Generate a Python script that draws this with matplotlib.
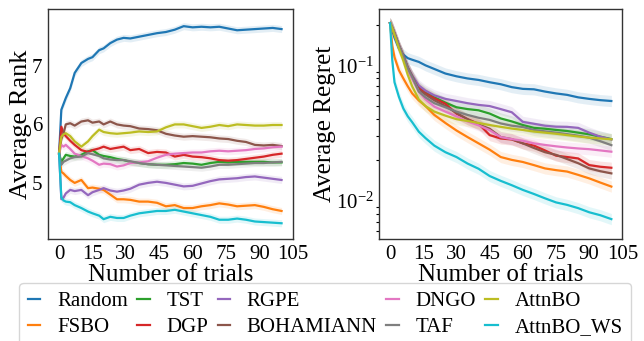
import matplotlib
matplotlib.use("Agg")
import matplotlib.pyplot as plt
import numpy as np

plt.rcParams['font.family'] = ['Liberation Serif', 'DejaVu Serif']
plt.rcParams['mathtext.fontset'] = 'stix'

methods = ["Random", "FSBO", "TST", "DGP", "RGPE", "BOHAMIANN", "DNGO", "TAF", "AttnBO", "AttnBO_WS"]
colors = ["#1f77b4", "#ff7f0e", "#2ca02c", "#d62728", "#9467bd", "#8c564b", "#e377c2", "#7f7f7f", "#bcbd22", "#17becf"]

# ---------- Average rank (left) ----------
rank_trials = [0, 1, 2, 3, 5, 7, 10, 13, 15, 18, 20, 23, 26, 29, 32, 36, 40, 44, 48, 52, 56, 60, 64, 68, 72, 76, 80, 84, 88, 92, 96, 100]
rank_random = [5.5, 6.25, 6.35, 6.45, 6.62, 6.88, 7.05, 7.12, 7.15, 7.27, 7.30, 7.39, 7.45, 7.48, 7.47, 7.50, 7.53, 7.56, 7.58, 7.62, 7.68, 7.66, 7.67, 7.66, 7.67, 7.64, 7.61, 7.62, 7.63, 7.64, 7.65, 7.63]
rank_fsbo = [5.5, 5.19, 5.16, 5.12, 5.05, 5.0, 5.05, 4.91, 4.92, 4.9, 4.88, 4.8, 4.72, 4.72, 4.71, 4.68, 4.68, 4.66, 4.6, 4.62, 4.57, 4.57, 4.6, 4.62, 4.65, 4.63, 4.6, 4.61, 4.62, 4.59, 4.55, 4.52]
rank_tst = [5.5, 5.36, 5.42, 5.48, 5.46, 5.45, 5.48, 5.54, 5.56, 5.48, 5.46, 5.44, 5.41, 5.39, 5.36, 5.34, 5.32, 5.31, 5.31, 5.32, 5.34, 5.33, 5.31, 5.34, 5.36, 5.35, 5.36, 5.36, 5.36, 5.36, 5.35, 5.35]
rank_dgp = [5.5, 5.96, 5.85, 5.8, 5.72, 5.65, 5.56, 5.53, 5.56, 5.59, 5.62, 5.58, 5.6, 5.62, 5.56, 5.58, 5.51, 5.53, 5.52, 5.45, 5.48, 5.45, 5.44, 5.42, 5.39, 5.38, 5.39, 5.41, 5.43, 5.45, 5.48, 5.5]
rank_rgpe = [5.5, 4.72, 4.75, 4.82, 4.88, 4.86, 4.88, 4.79, 4.84, 4.88, 4.91, 4.87, 4.85, 4.87, 4.9, 4.97, 5.0, 5.02, 5.0, 4.97, 4.94, 4.95, 4.99, 5.03, 5.06, 5.07, 5.08, 5.1, 5.11, 5.09, 5.07, 5.05]
rank_bohamiann = [5.5, 5.75, 5.85, 6.0, 6.02, 5.98, 6.05, 6.07, 6.03, 6.05, 6.0, 6.05, 6.0, 5.98, 5.97, 5.93, 5.92, 5.9, 5.84, 5.81, 5.79, 5.8, 5.79, 5.78, 5.76, 5.75, 5.72, 5.7, 5.65, 5.64, 5.65, 5.63]
rank_dngo = [5.5, 5.65, 5.62, 5.65, 5.58, 5.5, 5.46, 5.42, 5.38, 5.31, 5.33, 5.32, 5.28, 5.3, 5.34, 5.35, 5.37, 5.43, 5.48, 5.5, 5.51, 5.52, 5.52, 5.54, 5.55, 5.54, 5.55, 5.56, 5.58, 5.59, 5.61, 5.62]
rank_taf = [5.5, 5.31, 5.36, 5.38, 5.42, 5.44, 5.45, 5.51, 5.49, 5.46, 5.42, 5.4, 5.39, 5.39, 5.37, 5.34, 5.32, 5.31, 5.3, 5.29, 5.28, 5.27, 5.26, 5.28, 5.31, 5.31, 5.32, 5.33, 5.34, 5.34, 5.35, 5.36]
rank_attnbo = [5.5, 5.79, 5.83, 5.85, 5.8, 5.71, 5.62, 5.71, 5.8, 5.91, 5.87, 5.85, 5.84, 5.85, 5.86, 5.88, 5.87, 5.88, 5.95, 6.0, 6.0, 5.97, 5.94, 5.96, 5.99, 5.97, 6.0, 5.99, 5.98, 5.98, 5.99, 5.99]
rank_attnbo_ws = [5.5, 4.75, 4.7, 4.68, 4.67, 4.62, 4.57, 4.51, 4.48, 4.44, 4.38, 4.42, 4.4, 4.4, 4.44, 4.48, 4.5, 4.52, 4.52, 4.54, 4.51, 4.48, 4.45, 4.42, 4.37, 4.37, 4.39, 4.37, 4.34, 4.33, 4.32, 4.31]
rank_band = 0.06

# ---------- Average regret (right) ----------
regret_trials = [0, 1, 2, 4, 6, 8, 10, 13, 16, 20, 25, 30, 35, 40, 45, 50, 55, 60, 65, 70, 75, 80, 85, 90, 95, 100]
regret_random = [0.205, 0.181, 0.16, 0.133, 0.12, 0.113, 0.11, 0.106, 0.1, 0.094, 0.087, 0.083, 0.08, 0.078, 0.075, 0.0725, 0.069, 0.067, 0.0665, 0.064, 0.062, 0.0605, 0.058, 0.0565, 0.0553, 0.0545]
regret_fsbo = [0.205, 0.14, 0.115, 0.092, 0.08, 0.07, 0.062, 0.055, 0.05, 0.043, 0.0375, 0.033, 0.0295, 0.0265, 0.0238, 0.021, 0.02, 0.0193, 0.0183, 0.0173, 0.0168, 0.0164, 0.0155, 0.0146, 0.0136, 0.0127]
regret_tst = [0.205, 0.19, 0.172, 0.14, 0.116, 0.096, 0.083, 0.069, 0.063, 0.058, 0.053, 0.049, 0.0475, 0.0465, 0.044, 0.0405, 0.0385, 0.0362, 0.0345, 0.034, 0.0333, 0.0327, 0.0318, 0.0309, 0.0297, 0.0285]
regret_dgp = [0.205, 0.19, 0.172, 0.14, 0.117, 0.096, 0.083, 0.068, 0.062, 0.057, 0.052, 0.044, 0.04, 0.037, 0.0305, 0.0288, 0.0283, 0.0265, 0.0255, 0.0235, 0.0215, 0.021, 0.0205, 0.0183, 0.0178, 0.0175]
regret_rgpe = [0.205, 0.19, 0.173, 0.14, 0.117, 0.097, 0.084, 0.071, 0.065, 0.06, 0.0565, 0.0545, 0.0525, 0.051, 0.05, 0.0475, 0.045, 0.0382, 0.037, 0.0358, 0.0352, 0.0351, 0.0345, 0.0318, 0.0297, 0.0283]
regret_bohamiann = [0.205, 0.19, 0.172, 0.14, 0.117, 0.096, 0.083, 0.066, 0.061, 0.0552, 0.05, 0.0445, 0.04, 0.0365, 0.034, 0.0295, 0.0285, 0.0265, 0.0245, 0.0228, 0.0218, 0.0203, 0.0189, 0.0173, 0.0165, 0.0159]
regret_dngo = [0.205, 0.19, 0.17, 0.138, 0.113, 0.093, 0.08, 0.064, 0.056, 0.0495, 0.0455, 0.042, 0.0385, 0.036, 0.0332, 0.0295, 0.0285, 0.0277, 0.0265, 0.0258, 0.0252, 0.0247, 0.0243, 0.024, 0.0235, 0.023]
regret_taf = [0.205, 0.19, 0.172, 0.14, 0.116, 0.095, 0.082, 0.064, 0.058, 0.0525, 0.049, 0.0455, 0.043, 0.041, 0.0395, 0.0372, 0.0358, 0.035, 0.0333, 0.0325, 0.0318, 0.031, 0.0302, 0.0292, 0.0275, 0.0257]
regret_attnbo = [0.205, 0.188, 0.168, 0.133, 0.108, 0.085, 0.07, 0.056, 0.05, 0.0455, 0.0425, 0.04, 0.0388, 0.0375, 0.0362, 0.0351, 0.0341, 0.0333, 0.0324, 0.0318, 0.0312, 0.0305, 0.0298, 0.0292, 0.0288, 0.0284]
regret_attnbo_ws = [0.205, 0.109, 0.075, 0.0585, 0.048, 0.042, 0.038, 0.0323, 0.029, 0.0255, 0.0228, 0.021, 0.0188, 0.0172, 0.0152, 0.014, 0.013, 0.012, 0.0112, 0.0104, 0.0097, 0.0093, 0.0088, 0.0082, 0.0078, 0.0073]
regret_band = 1.1

rank_series = [rank_random, rank_fsbo, rank_tst, rank_dgp, rank_rgpe, rank_bohamiann, rank_dngo, rank_taf, rank_attnbo, rank_attnbo_ws]
regret_series = [regret_random, regret_fsbo, regret_tst, regret_dgp, regret_rgpe, regret_bohamiann, regret_dngo, regret_taf, regret_attnbo, regret_attnbo_ws]

fig = plt.figure(figsize=(6.44, 3.41), dpi=100)
ax1 = fig.add_axes([0.0745, 0.299, 0.380, 0.674])
ax2 = fig.add_axes([0.5885, 0.299, 0.378, 0.674])

lw = 1.6
for name, c, vals in zip(methods, colors, rank_series):
    v = np.array(vals)
    ax1.fill_between(rank_trials, v - rank_band, v + rank_band, color=c, alpha=0.12, lw=0)
    ax1.plot(rank_trials, v, color=c, lw=lw, label=name)

for name, c, vals in zip(methods, colors, regret_series):
    v = np.array(vals)
    ax2.fill_between(regret_trials, v / regret_band, v * regret_band, color=c, alpha=0.12, lw=0)
    ax2.plot(regret_trials, v, color=c, lw=lw)

ax2.set_yscale('log')

for ax in (ax1, ax2):
    ax.set_xlim(-5, 105)
    ax.set_xticks([0, 15, 30, 45, 60, 75, 90, 105])
    ax.tick_params(axis='both', which='major', length=0, labelsize=15, pad=4)
    ax.tick_params(axis='both', which='minor', length=2, width=0.8)
    ax.set_xlabel("Number of trials", fontsize=18, labelpad=0)
    for s in ax.spines.values():
        s.set_color('#333333')
        s.set_linewidth(1.0)

ax1.set_ylim(4.04, 7.97)
ax1.set_yticks([5, 6, 7])
ax1.set_ylabel("Average Rank", fontsize=19, labelpad=0)

ax2.set_ylim(0.0052, 0.26)
ax2.set_ylabel("Average Regret", fontsize=18, labelpad=0)

handles, labels = ax1.get_legend_handles_labels()
fig.legend(handles, labels, loc='upper center', bbox_to_anchor=(0.505, 0.200),
           ncol=5, fontsize=15, handlelength=0.6, handletextpad=0.8,
           columnspacing=0.45, frameon=True, borderpad=0.4, labelspacing=0.3)

fig.savefig("out.png", dpi=100)
